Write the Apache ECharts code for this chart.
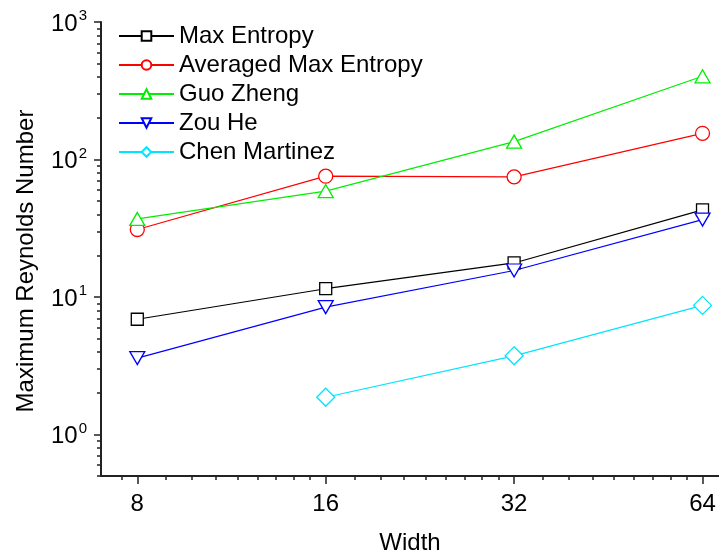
<!DOCTYPE html>
<html>
<head>
<meta charset="utf-8">
<script src="https://cdn.jsdelivr.net/npm/echarts@6/dist/echarts.min.js"></script>
<style>
  html, body { margin: 0; background: #fff; }
  #chart { width: 719px; height: 554px; }
</style>
</head>
<body>
<div id="chart"></div>
<script>
// data
const widths = [8, 16, 32, 64]
const maxEntropy = [6.9, 11.5, 17.7, 43.0]
const avgMaxEntropy = [31.0, 75.7, 74.8, 155]
const guoZheng = [37, 59, 135, 403]
const zouHe = [3.6, 8.45, 15.6, 36.6]
const chenMartinez = [null, 1.87, 3.74, 8.7]

// axis ticks (log axes drawn as value axes over log values)
const xMajor = [8, 16, 32, 64]
const xMinor = [7.56, 8.89, 9.78, 10.67, 11.56, 12.44, 13.33, 14.22, 15.11,
  17.78, 19.56, 21.33, 23.11, 24.89, 26.67, 28.44, 30.22,
  35.56, 39.11, 42.67, 46.22, 49.78, 53.33, 56.89, 60.44]
const yMajor = [1, 10, 100, 1000]
const yMinor = [0.5, 0.6, 0.7, 0.8, 0.9, 2, 3, 4, 5, 6, 7, 8, 9,
  20, 30, 40, 50, 60, 70, 80, 90, 200, 300, 400, 500, 600, 700, 800, 900]
const xRange = [7, 68]
const yRange = [0.5, 1000]

const font = 'Liberation Sans, Arial, sans-serif'
const lx = v => Math.log2(v)
const ly = v => Math.log10(v)

const seriesDefs = [
  { name: 'Max Entropy', values: maxEntropy, color: '#000', symbol: 'rect', size: 12, rotate: 0 },
  { name: 'Averaged Max Entropy', values: avgMaxEntropy, color: '#ff0000', symbol: 'circle', size: 14, rotate: 0 },
  { name: 'Guo Zheng', values: guoZheng, color: '#00ee00', symbol: 'triangle', size: [15, 13], rotate: 0 },
  { name: 'Zou He', values: zouHe, color: '#0000ff', symbol: 'triangle', size: [15, 13], rotate: 180 },
  { name: 'Chen Martinez', values: chenMartinez, color: '#00e5ff', symbol: 'diamond', size: 18, rotate: 0 }
]

const axisLine = { show: true, onZero: false, lineStyle: { color: '#222', width: 2 } }
const noLine = { show: false, onZero: false }
const tickStyle = { color: '#222', width: 1.5 }

const chart = echarts.init(document.getElementById('chart'))
chart.setOption({
  animation: false,
  textStyle: { fontFamily: font },
  grid: { left: 101, right: 0, top: 22, bottom: 78, outerBoundsMode: 'none', containLabel: false },
  legend: {
    orient: 'vertical',
    left: 118,
    top: 24,
    padding: 0,
    itemWidth: 55,
    itemHeight: 12,
    itemGap: 5,
    textStyle: { fontSize: 24, color: '#000', fontFamily: font },
    data: seriesDefs.map(s => s.name)
  },
  xAxis: [
    {
      type: 'value',
      position: 'bottom',
      min: lx(xRange[0]),
      max: lx(xRange[1]),
      name: 'Width',
      nameLocation: 'middle',
      nameGap: 55,
      nameTextStyle: { fontSize: 24, color: '#000' },
      axisLine,
      splitLine: { show: false },
      axisTick: { show: true, length: 8, lineStyle: tickStyle, customValues: xMajor.map(lx) },
      axisLabel: {
        fontSize: 24, color: '#000', margin: 16,
        customValues: xMajor.map(lx),
        formatter: v => String(Math.round(Math.pow(2, v)))
      }
    },
    {
      type: 'value',
      position: 'bottom',
      min: lx(xRange[0]),
      max: lx(xRange[1]),
      axisLine: noLine,
      splitLine: { show: false },
      axisLabel: { show: false },
      axisTick: { show: true, length: 4, lineStyle: tickStyle, customValues: xMinor.map(lx) }
    }
  ],
  yAxis: [
    {
      type: 'value',
      position: 'left',
      min: ly(yRange[0]),
      max: ly(yRange[1]),
      name: 'Maximum Reynolds Number',
      nameLocation: 'middle',
      nameGap: 63,
      nameTextStyle: { fontSize: 24, color: '#000', padding: [0, 24, 0, 0] },
      axisLine,
      splitLine: { show: false },
      axisTick: { show: true, length: 7, lineStyle: tickStyle, customValues: yMajor.map(ly) },
      axisLabel: {
        color: '#000', margin: 14,
        customValues: yMajor.map(ly),
        formatter: v => '{b|10}{s|' + Math.round(v) + '}',
        rich: {
          b: { fontSize: 24, color: '#000', fontFamily: font, padding: [4, 0, 0, 0] },
          s: { fontSize: 15, color: '#000', fontFamily: font, padding: [0, 0, 12, 1] }
        }
      }
    },
    {
      type: 'value',
      position: 'left',
      min: ly(yRange[0]),
      max: ly(yRange[1]),
      axisLine: noLine,
      splitLine: { show: false },
      axisLabel: { show: false },
      axisTick: { show: true, length: 4, lineStyle: tickStyle, customValues: yMinor.map(ly) }
    }
  ],
  series: seriesDefs.map(s => ({
    name: s.name,
    type: 'line',
    xAxisIndex: 0,
    yAxisIndex: 0,
    symbol: s.symbol,
    symbolSize: s.size,
    symbolRotate: s.rotate,
    showAllSymbol: true,
    lineStyle: { color: s.color, width: 1.2 },
    itemStyle: { color: '#fff', borderColor: s.color, borderWidth: 1.3 },
    emphasis: { disabled: true },
    data: widths.map((w, i) => [lx(w), s.values[i] == null ? '-' : ly(s.values[i])])
  }))
})
</script>
</body>
</html>
